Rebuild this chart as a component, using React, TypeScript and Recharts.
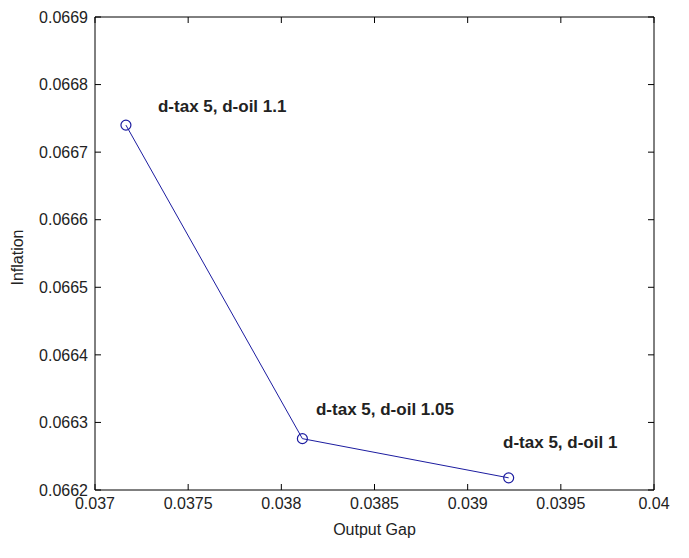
import { ComposedChart, Line, Scatter, XAxis, YAxis } from "recharts";

const outputGap = [0.037166, 0.038113, 0.03922];
const inflation = [0.06674, 0.066276, 0.066218];

const noteText = ["d-tax 5, d-oil 1.1", "d-tax 5, d-oil 1.05", "d-tax 5, d-oil 1"];
const noteX = [0.037338, 0.038186, 0.03919];
const noteY = [0.066767, 0.0663184, 0.0662696];

const xTicks = [0.037, 0.0375, 0.038, 0.0385, 0.039, 0.0395, 0.04];
const yTicks = [0.0662, 0.0663, 0.0664, 0.0665, 0.0666, 0.0667, 0.0668, 0.0669];

const points = outputGap.map((x, i) => ({ x, y: inflation[i] }));
const notes = noteText.map((text, i) => ({ x: noteX[i], y: noteY[i], text }));

const font = "'Liberation Sans', Arial, sans-serif";
const blue = "#1c1ca0";
const fmt = (v: number) => String(+v.toFixed(4));
const blank = () => "";

const NoteText = (props: any) => (
  <text
    x={props.cx}
    y={props.cy}
    dominantBaseline="central"
    fontFamily={font}
    fontSize={17}
    fontWeight="bold"
    fill="#222"
  >
    {props.payload.text}
  </text>
);

export default function App() {
  return (
    <div style={{ position: "absolute", left: 0, top: 0, background: "#fff" }}>
      <ComposedChart
        width={689}
        height={558}
        data={points}
        margin={{ top: 16, right: 34, bottom: 18, left: 15 }}
        style={{ fontFamily: font }}
      >
        <XAxis
          dataKey="x"
          type="number"
          domain={[0.037, 0.04]}
          ticks={xTicks}
          allowDataOverflow
          tickFormatter={fmt}
          tickSize={-6}
          tickMargin={14}
          height={50}
          stroke="#000"
          tick={{ fill: "#222", fontSize: 16 }}
          label={{
            content: (p: any) => (
              <text
                x={p.viewBox.x + p.viewBox.width / 2}
                y={p.viewBox.y + 45}
                textAnchor="middle"
                fontFamily={font}
                fontSize={16}
                fill="#222"
              >
                Output Gap
              </text>
            ),
          }}
        />
        <XAxis
          xAxisId="top"
          orientation="top"
          dataKey="x"
          type="number"
          domain={[0.037, 0.04]}
          ticks={xTicks}
          allowDataOverflow
          tickFormatter={blank}
          tickSize={-6}
          height={1}
          stroke="#000"
        />
        <YAxis
          dataKey="y"
          type="number"
          domain={[0.0662, 0.0669]}
          ticks={yTicks}
          allowDataOverflow
          tickFormatter={fmt}
          tickSize={-6}
          tickMargin={13}
          width={80}
          stroke="#000"
          tick={{ fill: "#222", fontSize: 16 }}
          label={{
            content: (p: any) => {
              const cx = p.viewBox.x + 2;
              const cy = p.viewBox.y + p.viewBox.height / 2 + 4;
              return (
                <text
                  x={cx}
                  y={cy}
                  transform={`rotate(-90 ${cx} ${cy})`}
                  textAnchor="middle"
                  dominantBaseline="central"
                  fontFamily={font}
                  fontSize={16}
                  fill="#222"
                >
                  Inflation
                </text>
              );
            },
          }}
        />
        <YAxis
          yAxisId="right"
          orientation="right"
          type="number"
          domain={[0.0662, 0.0669]}
          ticks={yTicks}
          allowDataOverflow
          tickFormatter={blank}
          tickSize={-6}
          width={1}
          stroke="#000"
        />
        <Line
          dataKey="y"
          stroke={blue}
          strokeWidth={1}
          isAnimationActive={false}
          dot={{ r: 5, stroke: blue, strokeWidth: 1.2, fill: "none" }}
          activeDot={false}
        />
        <Scatter data={notes} dataKey="y" shape={NoteText} isAnimationActive={false} />
      </ComposedChart>
    </div>
  );
}
